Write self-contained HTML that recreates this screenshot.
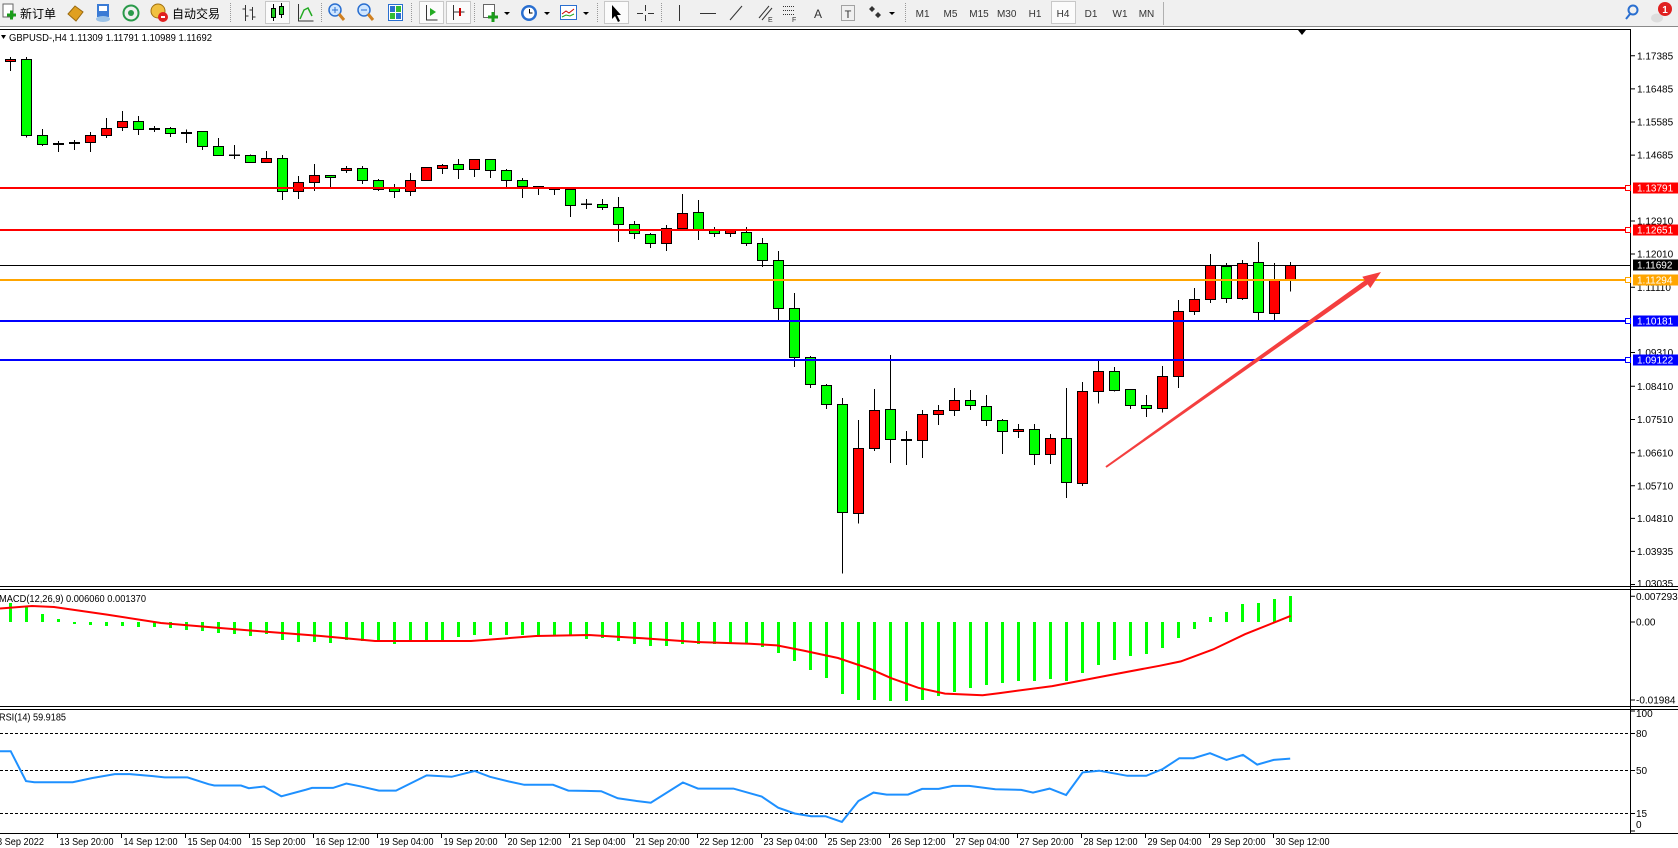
<!DOCTYPE html>
<html><head><meta charset="utf-8"><style>
html,body{margin:0;padding:0;background:#fff;width:1678px;height:848px;overflow:hidden}
svg{display:block}
.g{fill:#00ff00;stroke:#000;stroke-width:1}
.r{fill:#ff0000;stroke:#000;stroke-width:1}
.t{font-size:10px;fill:#000}
.w{font-size:10px;fill:#fff}
.tf{font-size:10px;fill:#333;text-anchor:middle}
</style></head><body>
<svg width="1678" height="848" viewBox="0 0 1678 848" font-family="'Liberation Sans','Noto Sans CJK SC',sans-serif">
<!-- toolbar -->
<rect x="0" y="0" width="1678" height="26" fill="#f0f0f0"/>
<line x1="0" y1="26.5" x2="1678" y2="26.5" stroke="#8a8a8a"/>
<rect x="3" y="4" width="10" height="13" fill="#fff" stroke="#666"/>
<path d="M7 15h9M11.5 10.5v9" stroke="#1a9c1a" stroke-width="3"/>
<text x="20" y="18" font-size="12" fill="#000">新订单</text>
<path d="M68 14 L75 6 L83 12 L76 21 Z" fill="#e0a020" stroke="#9a6a10"/>
<rect x="97" y="4" width="12" height="13" fill="#3a7bd5"/><rect x="99" y="6" width="8" height="5" fill="#fff"/><ellipse cx="103" cy="19" rx="7" ry="3" fill="#9cc3e8"/>
<circle cx="131" cy="13" r="7.5" fill="none" stroke="#2a9a4a" stroke-width="2"/><circle cx="131" cy="13" r="3" fill="#2a9a4a"/>
<circle cx="158" cy="11" r="7" fill="#f0c040" stroke="#a07010"/><circle cx="163" cy="17" r="5" fill="#e02020"/><rect x="161" y="16" width="4" height="2" fill="#fff"/>
<text x="172" y="18" font-size="12" fill="#000">自动交易</text>
<g stroke="#999" stroke-dasharray="1,1"><line x1="230.5" y1="3" x2="230.5" y2="23"/><line x1="321.5" y1="3" x2="321.5" y2="23"/><line x1="411.5" y1="3" x2="411.5" y2="23"/><line x1="474.5" y1="3" x2="474.5" y2="23"/><line x1="597.5" y1="3" x2="597.5" y2="23"/><line x1="661.5" y1="3" x2="661.5" y2="23"/><line x1="905.5" y1="3" x2="905.5" y2="23"/></g>
<line x1="1163.5" y1="2" x2="1163.5" y2="25" stroke="#b0b0b0"/>
<path d="M245.5 5v16M245.5 9h-3M245.5 16h3M252.5 7v13M252.5 10h-3M252.5 17h3" stroke="#333"/>
<rect x="265.5" y="1.5" width="24" height="22" fill="#fbfbfb" stroke="#c8c8c8"/>
<path d="M273.5 4v17M281.5 3v15" stroke="#000"/><rect x="271.5" y="8.5" width="4" height="9" fill="#2c2" stroke="#000"/><rect x="279.5" y="6.5" width="4" height="8" fill="#2c2" stroke="#000"/>
<path d="M298.5 4v17h15" stroke="#333" fill="none"/><path d="M300 19 L304 10 L308 8 L312 16" stroke="#2a2" fill="none" stroke-width="1.5"/>
<circle cx="335" cy="10" r="6" fill="#cfe6ff" stroke="#2a6fd0" stroke-width="1.5"/><path d="M332 10h6M335 7v6" stroke="#2a6fd0"/><path d="M339 14l5 6" stroke="#d08020" stroke-width="3"/>
<circle cx="364" cy="10" r="6" fill="#cfe6ff" stroke="#2a6fd0" stroke-width="1.5"/><path d="M361 10h6" stroke="#2a6fd0"/><path d="M368 14l5 6" stroke="#d08020" stroke-width="3"/>
<rect x="388.5" y="4.5" width="14" height="16" fill="#fff" stroke="#2a6fd0"/><rect x="390" y="6" width="5" height="6" fill="#2a6fd0"/><rect x="396" y="6" width="5" height="6" fill="#3b3"/><rect x="390" y="13" width="5" height="6" fill="#3b3"/><rect x="396" y="13" width="5" height="6" fill="#2a6fd0"/>
<rect x="419.5" y="1.5" width="24" height="22" fill="#fbfbfb" stroke="#c8c8c8"/><rect x="446.5" y="1.5" width="24" height="22" fill="#fbfbfb" stroke="#c8c8c8"/>
<path d="M426.5 5v15h11" stroke="#333" fill="none"/><path d="M430 8l6 4-6 4z" fill="#2a2"/>
<path d="M453.5 5v15M453.5 12h11" stroke="#333"/><path d="M460 8v8" stroke="#c00" stroke-width="2"/>
<rect x="483.5" y="4.5" width="11" height="13" fill="#fff" stroke="#666"/><path d="M488 17h10M493 12v10" stroke="#1a9c1a" stroke-width="3"/><path d="M504 12h6l-3 3z" fill="#000"/>
<circle cx="529" cy="13" r="8" fill="#2a6fd0"/><circle cx="529" cy="13" r="5.5" fill="#fff"/><path d="M529.5 9v4h3" stroke="#000" fill="none"/><path d="M544 12h6l-3 3z" fill="#000"/>
<rect x="560.5" y="5.5" width="16" height="14" fill="#fff" stroke="#2a6fd0"/><path d="M562 14l4-3 3 2 5-4" stroke="#c00" fill="none"/><path d="M562 17l4-2 4 1 4-2" stroke="#2a2" fill="none"/><path d="M583 12h6l-3 3z" fill="#000"/>
<rect x="604.5" y="1.5" width="24" height="22" fill="#fbfbfb" stroke="#c8c8c8"/><path d="M612 5v14l3-3 3 6 2-1-3-6h4z" fill="#000"/>
<path d="M645.5 5v6M645.5 15v6M637 13.5h6M648 13.5h6" stroke="#333"/>
<path d="M679.5 5v16" stroke="#333"/><path d="M700 13.5h16" stroke="#333"/><path d="M730 20l12-14" stroke="#333"/>
<path d="M759 18l10-12M762 20l10-12" stroke="#333"/><text x="768" y="22" font-size="7" fill="#333">E</text>
<path d="M783 6.5h12M783 10.5h12M783 14.5h12" stroke="#333" stroke-dasharray="1,1"/><text x="792" y="22" font-size="7" fill="#333">F</text>
<text x="818" y="18" font-size="12" fill="#333" text-anchor="middle">A</text>
<rect x="841.5" y="5.5" width="13" height="15" fill="none" stroke="#555" stroke-dasharray="1,1"/><text x="848" y="18" font-size="11" fill="#333" text-anchor="middle">T</text>
<path d="M872 6l3 3-3 3-3-3z M878 12l3 3-3 3-3-3z" fill="#333"/><path d="M889 12h6l-3 3z" fill="#000"/>
<rect x="1051.5" y="1.5" width="24" height="22" fill="#fbfbfb" stroke="#c8c8c8"/>
<text class="tf" x="922.6" y="17">M1</text><text class="tf" x="950.5" y="17">M5</text><text class="tf" x="979" y="17">M15</text><text class="tf" x="1006.7" y="17">M30</text><text class="tf" x="1035" y="17">H1</text><text class="tf" x="1063" y="17">H4</text><text class="tf" x="1091" y="17">D1</text><text class="tf" x="1120" y="17">W1</text><text class="tf" x="1146.5" y="17">MN</text>
<circle cx="1633" cy="10" r="4.5" fill="none" stroke="#2a6fd0" stroke-width="2"/><path d="M1630 14l-4 5" stroke="#2a6fd0" stroke-width="2"/>
<ellipse cx="1657" cy="18" rx="6" ry="4.5" fill="#ddd"/><circle cx="1665" cy="9" r="7" fill="#e02020"/><text x="1665" y="13" font-size="10" font-weight="bold" fill="#fff" text-anchor="middle">1</text>

<!-- frame -->
<line x1="0" y1="29.5" x2="1631" y2="29.5" stroke="#000"/>
<line x1="0" y1="586.5" x2="1678" y2="586.5" stroke="#000"/>
<line x1="0" y1="589.5" x2="1678" y2="589.5" stroke="#000"/>
<line x1="0" y1="706.5" x2="1678" y2="706.5" stroke="#000"/>
<line x1="0" y1="709.5" x2="1678" y2="709.5" stroke="#000"/>
<line x1="0" y1="833.5" x2="1678" y2="833.5" stroke="#000"/>
<line x1="1630.5" y1="29.5" x2="1630.5" y2="833.5" stroke="#000"/>
<path d="M1298 30h8l-4 5z" fill="#000"/>
<path d="M1 35h5l-2.5 4z" fill="#000"/>
<text class="t" x="9" y="41" textLength="203" lengthAdjust="spacingAndGlyphs">GBPUSD-,H4  1.11309 1.11791 1.10989 1.11692</text>

<!-- bid line (behind candles) -->
<line x1="0" y1="265.5" x2="1630" y2="265.5" stroke="#000"/>

<!-- wicks -->
<path stroke="#000" stroke-width="1" fill="none" d="M10.5 57V71M26.5 57V137.5M42.5 129V146M58.5 141V152M74.5 140V150M90.5 132V152M106.5 118V138M122.5 111V131M138.5 116V135M154.5 126V132M170.5 127V137M186.5 129.5V143M202.5 131V150M218.5 138V156M234.5 145V159M250.5 154.5V163M266.5 151V163M282.5 155V200M298.5 176V199M314.5 164V191M330.5 175V187M346.5 166V173M362.5 166V184M378.5 179V191M394.5 184V198M410.5 173V196M426.5 167V181M442.5 164V174M458.5 159V179M474.5 159V177M490.5 159V178M506.5 169V187M522.5 178V198M538.5 186V195M554.5 188V195M570.5 189V217M586.5 199V209M602.5 199V210M618.5 197V242M634.5 221V239M650.5 233V248M666.5 225V251M682.5 194V229M698.5 200V240M714.5 227V237M730.5 230V237M746.5 227V246M762.5 238V267M778.5 251V320M794.5 293V367M810.5 356V388M826.5 384V409M842.5 398V573.5M858.5 420V523.5M874.5 389V451M890.5 355V463M906.5 431V465M922.5 410V458M938.5 405V425M954.5 388V416M970.5 390V410M986.5 395V426M1002.5 419V454M1018.5 424V438M1034.5 424V465M1050.5 434V464M1066.5 388V498M1082.5 382V486M1098.5 361V403.5M1114.5 367V391.5M1130.5 389V409M1146.5 395V417M1162.5 366V412.5M1178.5 300V388M1194.5 288V315M1210.5 254V303M1226.5 263V303M1242.5 260V300M1258.5 242V320M1274.5 263V320M1290.5 262V291.5"/>
<!-- bodies -->
<rect class="r" x="5.5" y="59.5" width="10" height="2"/>
<rect class="g" x="21.5" y="59.5" width="10" height="76"/>
<rect class="g" x="37.5" y="135.5" width="10" height="9"/>
<rect class="g" x="53.5" y="143.5" width="10" height="1"/>
<rect class="g" x="69.5" y="142.5" width="10" height="1"/>
<rect class="r" x="85.5" y="135.5" width="10" height="7"/>
<rect class="r" x="101.5" y="128.5" width="10" height="7"/>
<rect class="r" x="117.5" y="121.5" width="10" height="6"/>
<rect class="g" x="133.5" y="121.5" width="10" height="8"/>
<rect class="g" x="149.5" y="128.5" width="10" height="1"/>
<rect class="g" x="165.5" y="128.5" width="10" height="5"/>
<rect class="g" x="181.5" y="132.5" width="10" height="1"/>
<rect class="g" x="197.5" y="131.5" width="10" height="15"/>
<rect class="g" x="213.5" y="146.5" width="10" height="9"/>
<rect class="g" x="229.5" y="155" width="10" height="0.5"/>
<rect class="g" x="245.5" y="155.5" width="10" height="7"/>
<rect class="r" x="261.5" y="158.5" width="10" height="4"/>
<rect class="g" x="277.5" y="158.5" width="10" height="33"/>
<rect class="r" x="293.5" y="182.5" width="10" height="9"/>
<rect class="r" x="309.5" y="175.5" width="10" height="7"/>
<rect class="g" x="325.5" y="175.5" width="10" height="2"/>
<rect class="r" x="341.5" y="168.5" width="10" height="2"/>
<rect class="g" x="357.5" y="168.5" width="10" height="12"/>
<rect class="g" x="373.5" y="180.5" width="10" height="9"/>
<rect class="g" x="389.5" y="188.5" width="10" height="3"/>
<rect class="r" x="405.5" y="180.5" width="10" height="11"/>
<rect class="r" x="421.5" y="167.5" width="10" height="13"/>
<rect class="r" x="437.5" y="165.5" width="10" height="3"/>
<rect class="g" x="453.5" y="164.5" width="10" height="5"/>
<rect class="r" x="469.5" y="159.5" width="10" height="10"/>
<rect class="g" x="485.5" y="159.5" width="10" height="11"/>
<rect class="g" x="501.5" y="170.5" width="10" height="10"/>
<rect class="g" x="517.5" y="180.5" width="10" height="6"/>
<rect class="g" x="533.5" y="186.5" width="10" height="1"/>
<rect class="g" x="549.5" y="188.5" width="10" height="1"/>
<rect class="g" x="565.5" y="189.5" width="10" height="16"/>
<rect class="g" x="581.5" y="204" width="10" height="0.5"/>
<rect class="g" x="597.5" y="204.5" width="10" height="3"/>
<rect class="g" x="613.5" y="207.5" width="10" height="17"/>
<rect class="g" x="629.5" y="224.5" width="10" height="9"/>
<rect class="g" x="645.5" y="234.5" width="10" height="9"/>
<rect class="r" x="661.5" y="228.5" width="10" height="15"/>
<rect class="r" x="677.5" y="213.5" width="10" height="15"/>
<rect class="g" x="693.5" y="212.5" width="10" height="17"/>
<rect class="g" x="709.5" y="229.5" width="10" height="4"/>
<rect class="r" x="725.5" y="230.5" width="10" height="3"/>
<rect class="g" x="741.5" y="232.5" width="10" height="11"/>
<rect class="g" x="757.5" y="243.5" width="10" height="17"/>
<rect class="g" x="773.5" y="260.5" width="10" height="48"/>
<rect class="g" x="789.5" y="308.5" width="10" height="49"/>
<rect class="g" x="805.5" y="357.5" width="10" height="27"/>
<rect class="g" x="821.5" y="385.5" width="10" height="19"/>
<rect class="g" x="837.5" y="404.5" width="10" height="108"/>
<rect class="r" x="853.5" y="448.5" width="10" height="65"/>
<rect class="r" x="869.5" y="410.5" width="10" height="38"/>
<rect class="g" x="885.5" y="409.5" width="10" height="30"/>
<rect class="g" x="901.5" y="439.5" width="10" height="1"/>
<rect class="r" x="917.5" y="414.5" width="10" height="26"/>
<rect class="r" x="933.5" y="410.5" width="10" height="4"/>
<rect class="r" x="949.5" y="400.5" width="10" height="10"/>
<rect class="g" x="965.5" y="400.5" width="10" height="5"/>
<rect class="g" x="981.5" y="406.5" width="10" height="14"/>
<rect class="g" x="997.5" y="420.5" width="10" height="11"/>
<rect class="r" x="1013.5" y="429.5" width="10" height="2"/>
<rect class="g" x="1029.5" y="429.5" width="10" height="25"/>
<rect class="r" x="1045.5" y="438.5" width="10" height="16"/>
<rect class="g" x="1061.5" y="438.5" width="10" height="44"/>
<rect class="r" x="1077.5" y="391.5" width="10" height="92"/>
<rect class="r" x="1093.5" y="371.5" width="10" height="20"/>
<rect class="g" x="1109.5" y="371.5" width="10" height="19"/>
<rect class="g" x="1125.5" y="389.5" width="10" height="16"/>
<rect class="g" x="1141.5" y="405.5" width="10" height="3"/>
<rect class="r" x="1157.5" y="376.5" width="10" height="32"/>
<rect class="r" x="1173.5" y="311.5" width="10" height="65"/>
<rect class="r" x="1189.5" y="299.5" width="10" height="12"/>
<rect class="r" x="1205.5" y="265.5" width="10" height="34"/>
<rect class="g" x="1221.5" y="266.5" width="10" height="32"/>
<rect class="r" x="1237.5" y="263.5" width="10" height="35"/>
<rect class="g" x="1253.5" y="262.5" width="10" height="50"/>
<rect class="r" x="1269.5" y="280.5" width="10" height="33"/>
<rect class="r" x="1285.5" y="265.5" width="10" height="15"/>

<!-- horizontal objects -->
<line x1="0" y1="188" x2="1627" y2="188" stroke="#ff0000" stroke-width="2"/>
<line x1="0" y1="230" x2="1627" y2="230" stroke="#ff0000" stroke-width="2"/>
<line x1="0" y1="280" x2="1627" y2="280" stroke="#ffa500" stroke-width="2"/>
<line x1="0" y1="321" x2="1627" y2="321" stroke="#0000ff" stroke-width="2"/>
<line x1="0" y1="360" x2="1627" y2="360" stroke="#0000ff" stroke-width="2"/>
<rect x="1625.5" y="185.5" width="5" height="5" fill="#fff" stroke="#ff0000"/>
<rect x="1625.5" y="227.5" width="5" height="5" fill="#fff" stroke="#ff0000"/>
<rect x="1625.5" y="277.5" width="5" height="5" fill="#fff" stroke="#ffa500"/>
<rect x="1625.5" y="318.5" width="5" height="5" fill="#fff" stroke="#0000ff"/>
<rect x="1625.5" y="357.5" width="5" height="5" fill="#fff" stroke="#0000ff"/>

<!-- arrow -->
<polygon points="1105.4,466.2 1364.9,280.4 1362.3,276.7 1381,272 1370.3,288.1 1367.7,284.4 1106.6,467.8" fill="#f43f3f"/>

<!-- price axis -->
<path stroke="#000" d="M1631 55.8h4M1631 88.9h4M1631 122h4M1631 155.1h4M1631 221h4M1631 254h4M1631 287.3h4M1631 352.5h4M1631 386.2h4M1631 419.5h4M1631 452.8h4M1631 485.8h4M1631 518.4h4M1631 551.4h4M1631 584.5h4"/>
<text class="t" x="1637" y="59.4">1.17385</text>
<text class="t" x="1637" y="92.5">1.16485</text>
<text class="t" x="1637" y="125.6">1.15585</text>
<text class="t" x="1637" y="158.7">1.14685</text>
<text class="t" x="1637" y="224.6">1.12910</text>
<text class="t" x="1637" y="257.6">1.12010</text>
<text class="t" x="1637" y="290.9">1.11110</text>
<text class="t" x="1637" y="356.1">1.09310</text>
<text class="t" x="1637" y="389.8">1.08410</text>
<text class="t" x="1637" y="423.1">1.07510</text>
<text class="t" x="1637" y="456.4">1.06610</text>
<text class="t" x="1637" y="489.4">1.05710</text>
<text class="t" x="1637" y="522">1.04810</text>
<text class="t" x="1637" y="555">1.03935</text>
<text class="t" x="1637" y="587">1.03035</text>
<rect x="1633" y="182.5" width="45" height="11" fill="#ff0000"/><text class="w" x="1637" y="191.6">1.13791</text>
<rect x="1633" y="224.5" width="45" height="11" fill="#ff0000"/><text class="w" x="1637" y="233.6">1.12651</text>
<rect x="1633" y="259.5" width="45" height="11" fill="#000"/><text class="w" x="1637" y="268.6">1.11692</text>
<rect x="1633" y="274.5" width="45" height="11" fill="#ffa500"/><text class="w" x="1637" y="283.6">1.11294</text>
<rect x="1633" y="315.5" width="45" height="11" fill="#0000ff"/><text class="w" x="1637" y="324.6">1.10181</text>
<rect x="1633" y="354.5" width="45" height="11" fill="#0000ff"/><text class="w" x="1637" y="363.6">1.09122</text>

<!-- MACD -->
<text class="t" x="-1" y="602" textLength="147" lengthAdjust="spacingAndGlyphs">MACD(12,26,9) 0.006060 0.001370</text>
<g fill="#00ff00">
<rect x="9" y="603" width="3" height="19"/><rect x="25" y="606" width="3" height="16"/><rect x="41" y="614" width="3" height="8"/><rect x="57" y="619" width="3" height="3"/>
<rect x="73" y="622" width="3" height="2"/><rect x="89" y="622" width="3" height="3"/><rect x="105" y="622" width="3" height="4"/><rect x="121" y="622" width="3" height="4"/>
<rect x="137" y="622" width="3" height="5"/><rect x="153" y="622" width="3" height="5"/><rect x="169" y="622" width="3" height="6"/><rect x="185" y="622" width="3" height="8"/>
<rect x="201" y="622" width="3" height="9"/><rect x="217" y="622" width="3" height="11"/><rect x="233" y="622" width="3" height="12"/><rect x="249" y="622" width="3" height="14"/>
<rect x="265" y="622" width="3" height="12"/><rect x="281" y="622" width="3" height="18"/><rect x="297" y="622" width="3" height="20"/><rect x="313" y="622" width="3" height="20"/>
<rect x="329" y="622" width="3" height="21"/><rect x="345" y="622" width="3" height="18"/><rect x="361" y="622" width="3" height="19"/><rect x="377" y="622" width="3" height="20"/>
<rect x="393" y="622" width="3" height="22"/><rect x="409" y="622" width="3" height="18"/><rect x="425" y="622" width="3" height="18"/><rect x="441" y="622" width="3" height="18"/>
<rect x="457" y="622" width="3" height="15"/><rect x="473" y="622" width="3" height="13"/><rect x="489" y="622" width="3" height="13"/><rect x="505" y="622" width="3" height="13"/>
<rect x="521" y="622" width="3" height="13"/><rect x="537" y="622" width="3" height="13"/><rect x="553" y="622" width="3" height="14"/><rect x="569" y="622" width="3" height="14"/>
<rect x="585" y="622" width="3" height="17"/><rect x="601" y="622" width="3" height="16"/><rect x="617" y="622" width="3" height="19"/><rect x="633" y="622" width="3" height="22"/>
<rect x="649" y="622" width="3" height="24"/><rect x="665" y="622" width="3" height="24"/><rect x="681" y="622" width="3" height="22"/><rect x="697" y="622" width="3" height="22"/>
<rect x="713" y="622" width="3" height="22"/><rect x="729" y="622" width="3" height="22"/><rect x="745" y="622" width="3" height="22"/><rect x="761" y="622" width="3" height="25"/>
<rect x="777" y="622" width="3" height="31"/><rect x="793" y="622" width="3" height="39"/><rect x="809" y="622" width="3" height="48"/><rect x="825" y="622" width="3" height="56"/>
<rect x="841" y="622" width="3" height="72"/><rect x="857" y="622" width="3" height="78"/><rect x="873" y="622" width="3" height="78"/><rect x="889" y="622" width="3" height="79"/>
<rect x="905" y="622" width="3" height="79"/><rect x="921" y="622" width="3" height="78"/><rect x="937" y="622" width="3" height="74"/><rect x="953" y="622" width="3" height="70"/>
<rect x="969" y="622" width="3" height="66"/><rect x="985" y="622" width="3" height="63"/><rect x="1001" y="622" width="3" height="61"/><rect x="1017" y="622" width="3" height="59"/>
<rect x="1033" y="622" width="3" height="59"/><rect x="1049" y="622" width="3" height="57"/><rect x="1065" y="622" width="3" height="59"/><rect x="1081" y="622" width="3" height="51"/>
<rect x="1097" y="622" width="3" height="43"/><rect x="1113" y="622" width="3" height="38"/><rect x="1129" y="622" width="3" height="34"/><rect x="1145" y="622" width="3" height="32"/>
<rect x="1161" y="622" width="3" height="26"/><rect x="1177" y="622" width="3" height="16"/><rect x="1193" y="622" width="3" height="7"/>
<rect x="1209" y="617" width="3" height="5"/><rect x="1225" y="612" width="3" height="10"/><rect x="1241" y="604" width="3" height="18"/><rect x="1257" y="603" width="3" height="19"/>
<rect x="1273" y="599" width="3" height="23"/><rect x="1289" y="596" width="3" height="26"/>
</g>
<polyline fill="none" stroke="#ff0000" stroke-width="2" points="0,608.5 32,606 54,607 107,614.6 161,623 214,627.5 268,631.9 321,636 375,641 471,641 536,636 589,635 643,638.3 696,642 750,643.7 777,645.4 803,650.5 838,658 870,668.8 891.6,678.3 918.3,687.8 945,693.6 982.6,695.3 998.7,693.2 1052.3,686.1 1105.8,675.9 1159.4,665.8 1180.8,661.4 1213,649.5 1245,634.2 1290.6,615.9"/>
<path stroke="#000" d="M1631 596.3h4M1631 622h4M1631 700h4"/>
<text class="t" x="1636" y="600">0.007293</text>
<text class="t" x="1636" y="625.6">0.00</text>
<text class="t" x="1636" y="703.6">-0.01984</text>

<!-- RSI -->
<text class="t" x="-1" y="720.5" textLength="67" lengthAdjust="spacingAndGlyphs">RSI(14) 59.9185</text>
<g stroke="#000" stroke-dasharray="3,2"><line x1="0" y1="733.5" x2="1630" y2="733.5"/><line x1="0" y1="770.5" x2="1630" y2="770.5"/><line x1="0" y1="813.5" x2="1630" y2="813.5"/></g>
<polyline fill="none" stroke="#1e90ff" stroke-width="2" points="0,751.2 10.7,751.2 26,781.1 34.4,782.2 72.7,782.2 91.8,778.1 114.8,774.1 130,774.1 153,776.1 164.6,777.4 187.5,777.4 208.6,784.2 214.3,785.5 241,785.5 248.8,788.2 264,786.5 281.3,796.3 306.2,789.6 312,787.9 333,787.9 346.3,783.5 359.7,786.2 378.9,790.6 396,790.6 426.7,775.4 451.6,776.8 474.6,771 490,776.8 509,781.5 524.3,784.8 553,784.8 568.3,790.6 585.5,790.9 601.2,791.2 617.8,798.3 636.6,801 650.8,802.7 682.9,782.5 698,788.6 733.4,788.6 761.7,796.6 778.2,807.7 794.7,813.5 811.2,816.2 825.4,816.2 841.9,821.9 858.4,801 873.5,792.6 886.7,794.6 908,794.6 922.1,788.9 938.7,788.9 952.8,785.9 969.3,785.9 995.3,789.2 1021.2,789.9 1033,792.6 1049.6,788.6 1066.1,795 1082.6,772.4 1099.1,770.7 1127.4,775.8 1146.3,775.8 1162.8,769 1179.3,758.2 1193.5,758.2 1210,753.2 1226.5,759.9 1243,754.9 1257.2,764.6 1273.7,759.9 1290.2,758.6"/>
<path stroke="#000" d="M1631 711h4M1631 733.5h4M1631 770.5h4M1631 813.5h4M1631 831h4"/>
<text class="t" x="1636" y="717">100</text>
<text class="t" x="1636" y="737.2">80</text>
<text class="t" x="1636" y="774">50</text>
<text class="t" x="1636" y="817">15</text>
<text class="t" x="1636" y="828">0</text>

<!-- time axis -->
<path stroke="#000" d="M57.5 834v4M121.5 834v4M185.5 834v4M249.5 834v4M313.5 834v4M377.5 834v4M441.5 834v4M505.5 834v4M569.5 834v4M633.5 834v4M697.5 834v4M761.5 834v4M825.5 834v4M889.5 834v4M953.5 834v4M1017.5 834v4M1081.5 834v4M1145.5 834v4M1209.5 834v4M1273.5 834v4"/>
<g font-size="10.5" fill="#000">
<text x="-3" y="845" textLength="47" lengthAdjust="spacingAndGlyphs">8 Sep 2022</text>
<text x="59.5" y="845" textLength="54" lengthAdjust="spacingAndGlyphs">13 Sep 20:00</text>
<text x="123.5" y="845" textLength="54" lengthAdjust="spacingAndGlyphs">14 Sep 12:00</text>
<text x="187.5" y="845" textLength="54" lengthAdjust="spacingAndGlyphs">15 Sep 04:00</text>
<text x="251.5" y="845" textLength="54" lengthAdjust="spacingAndGlyphs">15 Sep 20:00</text>
<text x="315.5" y="845" textLength="54" lengthAdjust="spacingAndGlyphs">16 Sep 12:00</text>
<text x="379.5" y="845" textLength="54" lengthAdjust="spacingAndGlyphs">19 Sep 04:00</text>
<text x="443.5" y="845" textLength="54" lengthAdjust="spacingAndGlyphs">19 Sep 20:00</text>
<text x="507.5" y="845" textLength="54" lengthAdjust="spacingAndGlyphs">20 Sep 12:00</text>
<text x="571.5" y="845" textLength="54" lengthAdjust="spacingAndGlyphs">21 Sep 04:00</text>
<text x="635.5" y="845" textLength="54" lengthAdjust="spacingAndGlyphs">21 Sep 20:00</text>
<text x="699.5" y="845" textLength="54" lengthAdjust="spacingAndGlyphs">22 Sep 12:00</text>
<text x="763.5" y="845" textLength="54" lengthAdjust="spacingAndGlyphs">23 Sep 04:00</text>
<text x="827.5" y="845" textLength="54" lengthAdjust="spacingAndGlyphs">25 Sep 23:00</text>
<text x="891.5" y="845" textLength="54" lengthAdjust="spacingAndGlyphs">26 Sep 12:00</text>
<text x="955.5" y="845" textLength="54" lengthAdjust="spacingAndGlyphs">27 Sep 04:00</text>
<text x="1019.5" y="845" textLength="54" lengthAdjust="spacingAndGlyphs">27 Sep 20:00</text>
<text x="1083.5" y="845" textLength="54" lengthAdjust="spacingAndGlyphs">28 Sep 12:00</text>
<text x="1147.5" y="845" textLength="54" lengthAdjust="spacingAndGlyphs">29 Sep 04:00</text>
<text x="1211.5" y="845" textLength="54" lengthAdjust="spacingAndGlyphs">29 Sep 20:00</text>
<text x="1275.5" y="845" textLength="54" lengthAdjust="spacingAndGlyphs">30 Sep 12:00</text>
</g>
</svg>
</body></html>
